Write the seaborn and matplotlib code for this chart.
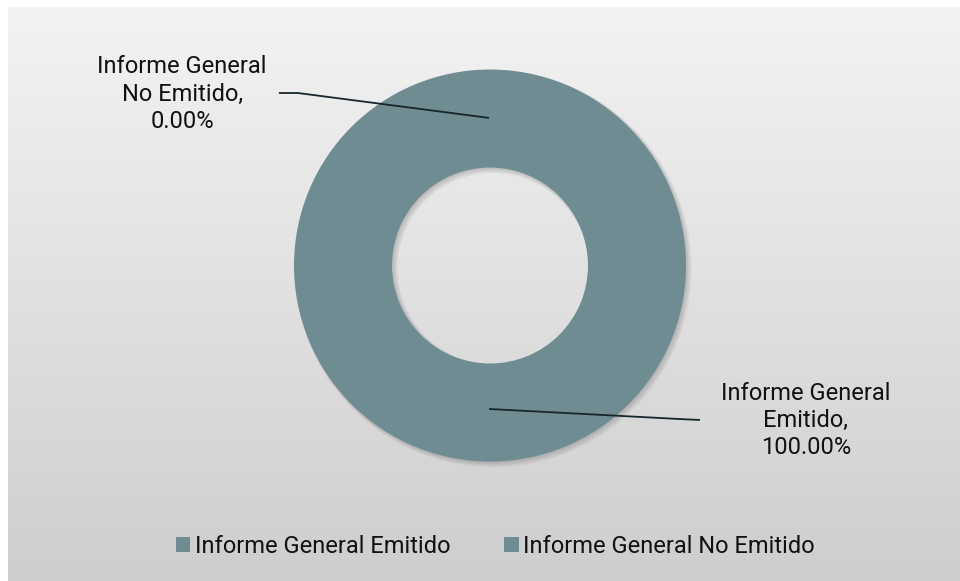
import numpy as np
import matplotlib
matplotlib.use("Agg")
import matplotlib.pyplot as plt
import seaborn as sns
from matplotlib.colors import LinearSegmentedColormap
from matplotlib.patches import Patch

categories = ["Informe General Emitido", "Informe General No Emitido"]
values = [100.0, 0.0]
label_texts = ["Informe General\nEmitido,\n100.00%", "Informe General\nNo Emitido,\n0.00%"]
ring_color = "#6E8C91"

sns.set_style("white")
plt.rcParams["font.family"] = ["Roboto", "DejaVu Sans"]

W, H = 960, 581
fig = plt.figure(figsize=(W / 100, H / 100), dpi=100)
fig.patch.set_facecolor("white")

# gradient background panel
bg = fig.add_axes([8 / W, 0, (W - 8) / W, (H - 7) / H])
grad = np.linspace(0, 1, 256).reshape(-1, 1)
cmap = LinearSegmentedColormap.from_list("bg", ["#F3F3F3", "#CECECE"])
bg.imshow(grad, aspect="auto", cmap=cmap, extent=[0, 1, 0, 1], origin="upper")
bg.set_axis_off()

# donut axes
cx, cy, R = 490, 265.5, 196
ax = fig.add_axes([(cx - R) / W, (H - cy - R) / H, 2 * R / W, 2 * R / H])
ax.set_axis_off()

# soft shadow
for i, a in enumerate([0.05, 0.05, 0.05, 0.05]):
    off = 0.004 * (i + 1)
    ax.pie([1], radius=1 + 0.004 * i, center=(off, -off), colors=["#000000"],
           startangle=90, counterclock=False,
           wedgeprops=dict(width=0.5 + 0.008 * i, alpha=a, linewidth=0))

ax.pie(values, radius=1, colors=[ring_color, ring_color], startangle=90, counterclock=False,
       wedgeprops=dict(width=0.5, linewidth=0, edgecolor=ring_color))
ax.set_xlim(-1, 1)
ax.set_ylim(-1, 1)
ax.set_aspect("equal")

# leader lines
line_kw = dict(color="#16262a", lw=1.3, clip_on=False, solid_capstyle="butt")
ax.plot([-0.005, -0.98, -1.077], [0.753, 0.880, 0.880], **line_kw)
ax.plot([-0.005, 1.0, 1.071], [-0.732, -0.785, -0.788], **line_kw)

txt_kw = dict(fontsize=17, color="#111111", ha="center", va="center", linespacing=1.23)
ax.text(-1.571, 0.875, label_texts[1], clip_on=False, **txt_kw)
ax.text(1.612, -0.79, label_texts[0], clip_on=False, **txt_kw)

handles = [Patch(facecolor=ring_color, edgecolor="none") for _ in categories]
fig.legend(handles, categories, loc="center", bbox_to_anchor=(0.516, 0.060),
           ncol=2, frameon=False, fontsize=17, handlelength=0.6, handleheight=0.6,
           handletextpad=0.2, columnspacing=2.3, labelcolor="#111111")

fig.savefig("out.png", dpi=100)
